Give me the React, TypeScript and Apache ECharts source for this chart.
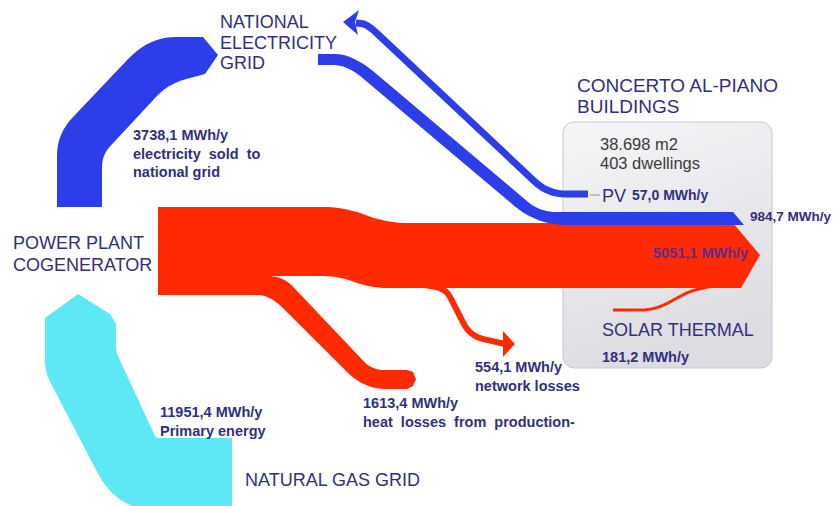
import React, { useEffect, useRef } from "react";
import * as echarts from "echarts";

// ---------- data ----------
const flowNames = [
  "Primary energy",
  "Electricity sold to national grid",
  "Heat to buildings",
  "Heat losses from production",
  "Network losses",
  "Solar thermal",
  "Electricity to buildings",
  "PV",
];
const flowValues = [11951.4, 3738.1, 5051.1, 1613.4, 554.1, 181.2, 984.7, 57.0];
const flowColors = ["#5ee8f4", "#2b3ee9", "#ff2a00", "#ff2a00", "#ff2a00", "#ff2a00", "#2b3ee9", "#2b3ee9"];
const buildingFacts = ["38.698 m2", "403 dwellings"];

const fmt = (v: number) => v.toFixed(1).replace(".", ",") + " MWh/y";

// ---------- layout (diagram units = page pixels through the hidden axes) ----------
type Pt = number[];
interface Shape {
  kind: "band" | "line";
  pts: Pt[];
  width?: number;
  head?: Pt[];
  order: number;
}
const flowShapes: Shape[] = [
  {
    kind: "band",
    order: 1,
    pts: [[78, 294], [110, 314], [116, 324], [116, 352, 5], [156, 438, 3], [232, 438], [232, 512], [118, 512, 45], [45, 372, 12], [45, 318]],
  },
  {
    kind: "band",
    order: 2,
    pts: [[57, 207], [57, 134, 22], [149, 37, 30], [203, 37], [218, 55], [205, 74], [168, 84, 18], [102, 155, 12], [102, 207]],
  },
  {
    kind: "band",
    order: 3,
    pts: [[158, 207], [345, 207, 22], [386, 223, 22], [733, 223], [760, 255], [741, 288], [372, 288, 14], [337, 276, 14], [250, 276], [250, 295], [158, 295]],
  },
  {
    kind: "band",
    order: 4,
    pts: [[245, 276], [283, 276, 15], [372, 370, 12], [407, 370], [413, 372], [416, 379], [413, 386], [407, 389], [364, 389, 25], [270, 295, 20], [245, 295]],
  },
  {
    kind: "line",
    order: 5,
    width: 6,
    pts: [[425, 285], [446, 289, 10], [470, 336, 14], [505, 344]],
    head: [[515, 344], [503, 331], [503, 357]],
  },
  {
    kind: "line",
    order: 6,
    width: 3,
    pts: [[613, 310], [655, 310, 15], [690, 291, 10], [712, 286]],
  },
  {
    kind: "band",
    order: 7,
    pts: [[318, 54], [353, 54, 32], [540, 212, 16], [733, 212], [744, 225], [537, 225, 30], [347, 65, 18], [318, 65]],
  },
  {
    kind: "line",
    order: 8,
    width: 7,
    pts: [[588, 194], [548, 194, 18], [367, 24, 14], [356, 23]],
    head: [[343, 22], [359, 10], [355, 22], [358, 35]],
  },
];

function roundPath(pts: Pt[], closed: boolean, steps = 10): number[][] {
  const out: number[][] = [];
  const n = pts.length;
  for (let i = 0; i < n; i++) {
    const p = pts[i];
    const r = p[2] || 0;
    const hasPrev = closed || i > 0;
    const hasNext = closed || i < n - 1;
    if (!r || !hasPrev || !hasNext) {
      out.push([p[0], p[1]]);
      continue;
    }
    const a = pts[(i - 1 + n) % n];
    const b = pts[(i + 1) % n];
    const d1 = Math.hypot(a[0] - p[0], a[1] - p[1]);
    const d2 = Math.hypot(b[0] - p[0], b[1] - p[1]);
    const r1 = Math.min(r, d1 / 2);
    const r2 = Math.min(r, d2 / 2);
    const s = [p[0] + ((a[0] - p[0]) * r1) / d1, p[1] + ((a[1] - p[1]) * r1) / d1];
    const e = [p[0] + ((b[0] - p[0]) * r2) / d2, p[1] + ((b[1] - p[1]) * r2) / d2];
    for (let k = 0; k <= steps; k++) {
      const t = k / steps;
      const u = 1 - t;
      out.push([
        u * u * s[0] + 2 * u * t * p[0] + t * t * e[0],
        u * u * s[1] + 2 * u * t * p[1] + t * t * e[1],
      ]);
    }
  }
  return out;
}

const NAVY = "#30307e";
const FONT = "'Liberation Sans', Arial, sans-serif";

function label(x: number, top: number, text: string, size: number, bold: boolean, lh: number, color = NAVY) {
  return {
    type: "text",
    x,
    y: top,
    z: 100,
    style: {
      text,
      fill: color,
      fontSize: size,
      fontWeight: bold ? "bold" : "normal",
      fontFamily: FONT,
      lineHeight: lh,
      align: "left",
      verticalAlign: "top",
    },
  };
}

export default function App() {
  const ref = useRef<HTMLDivElement>(null);
  useEffect(() => {
    if (!ref.current) return;
    const chart = echarts.init(ref.current, undefined, { renderer: "svg" });
    const v = flowValues;
    const option: any = {
      animation: false,
      backgroundColor: "#ffffff",
      grid: { left: 0, right: 0, top: 0, bottom: 0 },
      xAxis: { type: "value", min: 0, max: 837, show: false },
      yAxis: { type: "value", min: 0, max: 506, inverse: true, show: false },
      series: [
        {
          type: "custom",
          name: "buildings",
          z: 1,
          data: [[0, 0]],
          renderItem: (_p: any, api: any) => {
            const tl = api.coord([563, 122]);
            const br = api.coord([772, 368]);
            const a = api.coord([590, 195]);
            const b = api.coord([600, 195]);
            return {
              type: "group",
              children: [
                {
                  type: "rect",
                  shape: { x: tl[0], y: tl[1], width: br[0] - tl[0], height: br[1] - tl[1], r: 11 },
                  style: {
                    fill: new echarts.graphic.LinearGradient(0, 0, 0.3, 1, [
                      { offset: 0, color: "#f6f6f8" },
                      { offset: 1, color: "#dcdce2" },
                    ]),
                    stroke: "#c8c8ce",
                    lineWidth: 1,
                  },
                },
                {
                  type: "line",
                  shape: { x1: a[0], y1: a[1], x2: b[0], y2: b[1] },
                  style: { stroke: "#b4b4b8", lineWidth: 1.5 },
                },
              ],
            };
          },
        },
        {
          type: "custom",
          name: "flows",
          z: 2,
          data: flowValues.map((val, i) => ({ name: flowNames[i], value: [i, val] })),
          renderItem: (params: any, api: any) => {
            const i = params.dataIndex;
            const sh = flowShapes[i];
            const color = flowColors[i];
            const children: any[] = [];
            if (sh.kind === "band") {
              children.push({
                type: "polygon",
                z2: sh.order,
                shape: { points: roundPath(sh.pts, true).map((p) => api.coord(p)) },
                style: { fill: color },
              });
            } else {
              children.push({
                type: "polyline",
                z2: sh.order,
                shape: { points: roundPath(sh.pts, false).map((p) => api.coord(p)) },
                style: { stroke: color, lineWidth: sh.width, fill: null, lineJoin: "round" },
              });
              if (sh.head) {
                children.push({
                  type: "polygon",
                  z2: sh.order,
                  shape: { points: sh.head.map((p) => api.coord(p)) },
                  style: { fill: color },
                });
              }
            }
            return { type: "group", children };
          },
        },
      ],
      graphic: [
        label(220, 12, "NATIONAL\nELECTRICITY\nGRID", 18, false, 20.5),
        label(577, 74.5, "CONCERTO AL-PIANO\nBUILDINGS", 19, false, 21),
        label(600, 134.5, buildingFacts.join("\n"), 16.5, false, 19, "#3a3a3a"),
        label(602, 185, "PV", 18, false, 22),
        label(632, 186, fmt(v[7]), 14, true, 18),
        label(750, 207, fmt(v[6]), 13.5, true, 18),
        label(653, 244, fmt(v[2]), 14.5, true, 18, "#5e2c8c"),
        label(602, 319, "SOLAR THERMAL", 18, false, 22),
        label(602, 348, fmt(v[5]), 14.5, true, 18),
        label(13, 232, "POWER PLANT\nCOGENERATOR", 18, false, 22),
        label(133, 125.75, fmt(v[1]) + "\nelectricity  sold  to\nnational grid", 14.5, true, 18.5),
        label(160, 403, fmt(v[0]) + "\nPrimary energy", 14.5, true, 18.5),
        label(245, 469, "NATURAL GAS GRID", 18, false, 22),
        label(363, 393.5, fmt(v[3]) + "\nheat  losses  from  production-", 14.5, true, 19),
        label(475, 357.75, fmt(v[4]) + "\nnetwork losses", 14.5, true, 18.5),
      ],
    };
    chart.setOption(option);
    return () => chart.dispose();
  }, []);
  return (
    <div
      ref={ref}
      style={{ position: "fixed", left: 0, top: 0, width: 837, height: 506, background: "#fff" }}
    />
  );
}
